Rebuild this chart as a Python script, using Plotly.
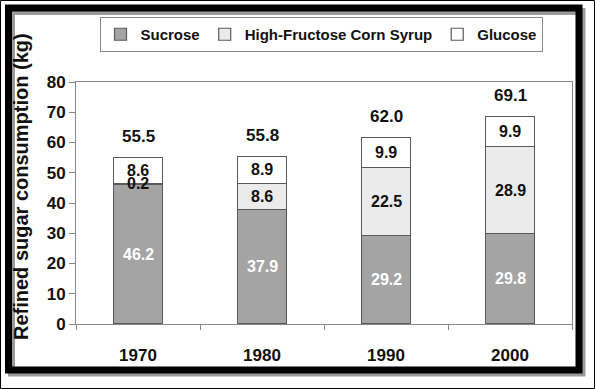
import plotly.graph_objects as go

years = ["1970", "1980", "1990", "2000"]
sucrose = [46.2, 37.9, 29.2, 29.8]
hfcs = [0.2, 8.6, 22.5, 28.9]
glucose = [8.6, 8.9, 9.9, 9.9]
totals = [55.5, 55.8, 62.0, 69.1]
series_names = ["Sucrose", "High-Fructose Corn Syrup", "Glucose"]
y_ticks = [0, 10, 20, 30, 40, 50, 60, 70, 80]

W, H = 595, 389
L, R, T, B = 76, 23, 82, 65
PW, PH = W - L - R, H - T - B

def fx(px):
    return (px - L) / PW

def fy(py):
    return (H - B - py) / PH

FONT = "Liberation Sans, Arial, sans-serif"
OUT = "#5a5a5a"

fig = go.Figure()
colors = ["#a4a4a4", "#ebebeb", "#ffffff"]
for name, vals, col in zip(series_names, [sucrose, hfcs, glucose], colors):
    fig.add_trace(go.Bar(
        x=years, y=vals, name=name,
        marker=dict(color=col, line=dict(color=OUT, width=1.2)),
    ))

ann = []
base = [0.0] * len(years)
for si, vals in enumerate([sucrose, hfcs, glucose]):
    for i, v in enumerate(vals):
        ann.append(dict(
            x=i, y=base[i] + v / 2, xref="x", yref="y",
            text=f"{v:.1f}", showarrow=False,
            font=dict(family=FONT, size=16, weight="bold",
                      color="#ffffff" if si == 0 else "#111111"),
        ))
        base[i] += v
for i, t in enumerate(totals):
    ann.append(dict(
        x=i, y=base[i], xref="x", yref="y", yshift=21,
        text=f"{t:.1f}", showarrow=False,
        font=dict(family=FONT, size=17, weight="bold", color="#111111"),
    ))
ann.append(dict(
    x=fx(21), y=fy(187), xref="paper", yref="paper", xanchor="center",
    yanchor="middle",
    text="Refined sugar consumption (kg)", textangle=-90, showarrow=False,
    font=dict(family=FONT, size=20, weight="bold", color="#111111"),
))

shapes = [
    dict(type="rect", xref="paper", yref="paper",
         x0=fx(0.5), x1=fx(594.5), y0=fy(0.5), y1=fy(388.5),
         line=dict(color="#000000", width=1)),
    dict(type="rect", xref="paper", yref="paper",
         x0=fx(11.5), x1=fx(582), y0=fy(11.5), y1=fy(373),
         line=dict(color="#9a9a9a", width=7)),
    dict(type="rect", xref="paper", yref="paper",
         x0=fx(8.5), x1=fx(579), y0=fy(8), y1=fy(370),
         line=dict(color="#000000", width=7)),
]

fig.update_layout(
    width=W, height=H,
    margin=dict(l=L, r=R, t=T, b=B),
    barmode="stack", bargap=0.6,
    plot_bgcolor="#ffffff", paper_bgcolor="#ffffff",
    font=dict(family=FONT, size=16, color="#111111", weight="bold"),
    showlegend=True,
    legend=dict(
        orientation="h", x=fx(321), xanchor="center", y=fy(17), yanchor="top",
        bordercolor="#888888", borderwidth=1, bgcolor="#ffffff",
        font=dict(family=FONT, size=15, weight="bold", color="#111111"),
        itemwidth=30, traceorder="normal",
    ),
    xaxis=dict(
        type="category", range=[-0.5, 3.5], showline=True, linecolor="#888888",
        linewidth=1, mirror=True, ticks="outside", tickson="boundaries", ticklen=5,
        tickcolor="#888888", showgrid=False, ticklabelstandoff=16,
        tickfont=dict(family=FONT, size=17, weight="bold", color="#111111"),
    ),
    yaxis=dict(
        range=[0, 80], tickvals=y_ticks, showline=True, linecolor="#888888",
        linewidth=1, mirror=True, ticks="outside", ticklen=6,
        tickcolor="#888888", showgrid=False, zeroline=False,
        tickfont=dict(family=FONT, size=17, weight="bold", color="#111111"),
    ),
    annotations=ann, shapes=shapes,
)

fig.write_html("out.html")
